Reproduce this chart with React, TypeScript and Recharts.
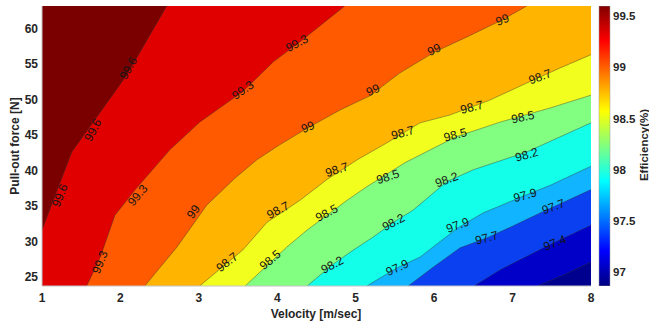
import {
  Area,
  Bar,
  BarChart,
  CartesianGrid,
  ComposedChart,
  Line,
  Scatter,
  XAxis,
  YAxis,
} from 'recharts'

const X_MIN = 1
const X_MAX = 8
const Y_MIN = 23.73
const Y_MAX = 63.15
const C_MIN = 96.866
const C_MAX = 99.597

const xTicks = [1, 2, 3, 4, 5, 6, 7, 8]
const yTicks = [25, 30, 35, 40, 45, 50, 55, 60]
const cTicks = [97, 97.5, 98, 98.5, 99, 99.5]

// band colours, lowest band first (below 97.1) up to the band above 99.6
const bandColors = [
  '#00008f',
  '#0000c8',
  '#0a40f0',
  '#10b4ff',
  '#14ffea',
  '#82ff80',
  '#f2ff1e',
  '#ffb400',
  '#ff5a00',
  '#e00000',
  '#7a0000',
]

// contour lines [velocity, force], lowest level first
const c971 = [[7.32, 23.73], [7.67, 25.4], [8, 27.1]]
const c974 = [[6.51, 23.73], [6.84, 26.0], [7.52, 29.8], [8, 32.3]]
const c977 = [[5.67, 23.73], [5.99, 26.4], [6.33, 29.1], [6.67, 30.5], [6.97, 32.0], [7.35, 34.0], [8, 37.3]]
const c979 = [[5.14, 23.73], [5.53, 26.3], [5.82, 27.8], [6.3, 31.9], [6.62, 34.0], [7.16, 36.5], [7.48, 37.9], [8, 40.6]]
const c982 = [[4.38, 23.73], [4.7, 26.7], [4.97, 28.8], [5.22, 30.6], [5.48, 32.7], [5.73, 34.4], [6.16, 38.4], [6.5, 40.1], [7.18, 42.6], [7.52, 44.3], [8, 46.7]]
const c985 = [[3.59, 23.73], [4.12, 29.2], [4.38, 31.6], [4.89, 35.8], [5.14, 37.7], [5.63, 41.1], [6.27, 44.7], [6.84, 46.8], [7.48, 48.8], [8, 50.6]]
const c987 = [[3.01, 23.73], [3.56, 28.8], [3.87, 32.7], [4.29, 35.8], [4.63, 38.7], [5.02, 41.5], [5.4, 43.9], [5.82, 46.7], [6.2, 47.8], [6.71, 49.9], [7.18, 52.3], [7.6, 54.4], [8, 56.3]]
const c990 = [[2.31, 23.73], [2.72, 29.2], [3.1, 35.1], [3.46, 38.9], [3.74, 41.5], [4.03, 43.6], [4.39, 46.0], [4.8, 48.5], [5.18, 50.5], [5.56, 53.7], [6.01, 56.7], [6.42, 58.8], [6.87, 61.2], [7.18, 63.15]]
const c993 = [[1.57, 23.73], [1.74, 27.7], [1.93, 33.7], [2.19, 37.3], [2.63, 42.9], [3.01, 46.8], [3.56, 51.1], [3.95, 55.3], [4.29, 58.1], [4.86, 63.15]]
const c996 = [[1, 31.6], [1.38, 42.6], [2.08, 53.4], [2.59, 63.15]]

const contours = [c971, c974, c977, c979, c982, c985, c987, c990, c993, c996]

// inline contour labels
const labels = [
  { x: 2.1, y: 54.4, t: '99.6', a: -60 },
  { x: 1.65, y: 45.7, t: '99.6', a: -62 },
  { x: 1.23, y: 36.5, t: '99.6', a: -68 },
  { x: 1.74, y: 27.1, t: '99.3', a: -68 },
  { x: 2.22, y: 36.5, t: '99.3', a: -50 },
  { x: 3.56, y: 51.3, t: '99.3', a: -35 },
  { x: 4.25, y: 57.9, t: '99.3', a: -28 },
  { x: 2.93, y: 34.2, t: '99', a: -55 },
  { x: 4.39, y: 46.1, t: '99', a: -22 },
  { x: 5.22, y: 51.3, t: '99', a: -25 },
  { x: 6.0, y: 57.0, t: '99', a: -25 },
  { x: 6.87, y: 61.2, t: '99', a: -20 },
  { x: 3.36, y: 27.1, t: '98.7', a: -38 },
  { x: 4.01, y: 34.4, t: '98.7', a: -28 },
  { x: 4.76, y: 40.1, t: '98.7', a: -18 },
  { x: 5.6, y: 45.3, t: '98.7', a: -15 },
  { x: 6.48, y: 48.9, t: '98.7', a: -14 },
  { x: 7.35, y: 53.2, t: '98.7', a: -20 },
  { x: 3.91, y: 27.4, t: '98.5', a: -40 },
  { x: 4.63, y: 34.0, t: '98.5', a: -28 },
  { x: 5.41, y: 39.1, t: '98.5', a: -18 },
  { x: 6.27, y: 45.0, t: '98.5', a: -15 },
  { x: 7.13, y: 47.5, t: '98.5', a: -12 },
  { x: 4.7, y: 26.7, t: '98.2', a: -28 },
  { x: 5.48, y: 32.7, t: '98.2', a: -28 },
  { x: 6.16, y: 38.7, t: '98.2', a: -20 },
  { x: 7.18, y: 42.2, t: '98.2', a: -16 },
  { x: 5.53, y: 26.3, t: '97.9', a: -25 },
  { x: 6.3, y: 32.3, t: '97.9', a: -20 },
  { x: 7.16, y: 36.5, t: '97.9', a: -15 },
  { x: 6.67, y: 30.5, t: '97.7', a: -15 },
  { x: 7.52, y: 34.9, t: '97.7', a: -20 },
  { x: 7.54, y: 29.8, t: '97.4', a: -22 },
]

const colorbarData = [{ name: 'eff', range: [C_MIN, C_MAX] }]

// jet colormap, bottom to top
const jetStops = [
  { o: 0, c: '#000080' },
  { o: 0.125, c: '#0000ff' },
  { o: 0.375, c: '#00ffff' },
  { o: 0.625, c: '#ffff00' },
  { o: 0.875, c: '#ff0000' },
  { o: 1, c: '#800000' },
]

// one table: "a{i}" is the filled region edge (padded to the plot border), "c{i}" the drawn line
const rows: Record<string, number>[] = []
contours.forEach((pts, i) => {
  const first = pts[0]
  const last = pts[pts.length - 1]
  if (first[0] > X_MIN) rows.push({ x: X_MIN, [`a${i}`]: Y_MIN })
  pts.forEach(([x, y]) => rows.push({ x, [`a${i}`]: y, [`c${i}`]: y }))
  if (last[0] < X_MAX) rows.push({ x: X_MAX, [`a${i}`]: Y_MAX })
})
rows.sort((p, q) => p.x - q.x)

const font = '"Liberation Sans", Arial, sans-serif'
const tickStyle = { fontSize: 12, fontWeight: 700, fill: '#262626' }
const frame = '#c4c4c4'

function ContourLabel(props: any) {
  const { cx, cy, payload } = props
  return (
    <text
      x={cx}
      y={cy}
      transform={`rotate(${payload.a} ${cx} ${cy})`}
      textAnchor='middle'
      dominantBaseline='central'
      fontSize={12}
      fill='#151515'
    >
      {payload.t}
    </text>
  )
}

export default function App() {
  return (
    <div
      style={{
        position: 'absolute',
        left: 0,
        top: 0,
        width: 649,
        height: 323,
        overflow: 'hidden',
        background: '#fff',
        fontFamily: font,
      }}
    >
      <div style={{ position: 'absolute', left: 0, top: 0 }}>
        <ComposedChart
          width={598}
          height={323}
          data={rows}
          margin={{ top: 6, right: 7, bottom: 0, left: 0 }}
        >
          <CartesianGrid fill={bandColors[0]} stroke='none' />
          <XAxis
            type='number'
            dataKey='x'
            domain={[X_MIN, X_MAX]}
            ticks={xTicks}
            allowDataOverflow
            height={37}
            tickSize={0}
            tickMargin={7}
            tick={tickStyle}
            stroke={frame}
            label={() => (
              <text
                x={316}
                y={318}
                textAnchor='middle'
                fontSize={12}
                fontWeight={700}
                fill='#262626'
              >
                Velocity [m/sec]
              </text>
            )}
          />
          <XAxis
            xAxisId='top'
            orientation='top'
            type='number'
            domain={[X_MIN, X_MAX]}
            height={0}
            tick={false}
            tickLine={false}
            stroke={frame}
          />
          <YAxis
            type='number'
            domain={[Y_MIN, Y_MAX]}
            ticks={yTicks}
            allowDataOverflow
            width={42}
            tickSize={0}
            tickMargin={4}
            tick={tickStyle}
            stroke={frame}
            label={() => (
              <text
                transform='translate(19 146) rotate(-90)'
                textAnchor='middle'
                fontSize={12}
                fontWeight={700}
                fill='#262626'
              >
                Pull-out force [N]
              </text>
            )}
          />
          <YAxis
            yAxisId='right'
            orientation='right'
            type='number'
            domain={[Y_MIN, Y_MAX]}
            width={0}
            tick={false}
            tickLine={false}
            stroke={frame}
          />
          {contours.map((_, i) => (
            <Area
              key={`a${i}`}
              type='linear'
              dataKey={`a${i}`}
              baseValue='dataMax'
              connectNulls
              stroke='none'
              fill={bandColors[i + 1]}
              fillOpacity={1}
              dot={false}
              activeDot={false}
              isAnimationActive={false}
            />
          ))}
          {contours.map((_, i) => (
            <Line
              key={`c${i}`}
              type='linear'
              dataKey={`c${i}`}
              connectNulls
              stroke='#333'
              strokeWidth={0.6}
              strokeOpacity={0.7}
              dot={false}
              activeDot={false}
              isAnimationActive={false}
            />
          ))}
          <Scatter
            data={labels}
            dataKey='y'
            shape={ContourLabel}
            isAnimationActive={false}
          />
        </ComposedChart>
      </div>
      <div style={{ position: 'absolute', left: 590, top: 0 }}>
        <BarChart
          width={59}
          height={323}
          data={colorbarData}
          margin={{ top: 6, right: 0, bottom: 0, left: 9 }}
          barCategoryGap={0}
        >
          <defs>
            <linearGradient id='jet' x1='0' y1='1' x2='0' y2='0'>
              {jetStops.map((s) => (
                <stop key={s.o} offset={s.o} stopColor={s.c} />
              ))}
            </linearGradient>
          </defs>
          <XAxis dataKey='name' height={37} tick={false} tickLine={false} axisLine={false} />
          <YAxis
            orientation='right'
            type='number'
            domain={[C_MIN, C_MAX]}
            ticks={cTicks}
            allowDataOverflow
            width={39}
            tickSize={0}
            tickMargin={3}
            axisLine={false}
            tick={{ ...tickStyle, fontSize: 11.5 }}
            label={() => (
              <text
                transform='translate(57.5 145) rotate(-90)'
                textAnchor='middle'
                fontSize={11.5}
                fontWeight={700}
                fill='#262626'
              >
                Efficiency(%)
              </text>
            )}
          />
          <Bar
            dataKey='range'
            fill='url(#jet)'
            stroke='#9a9a9a'
            strokeWidth={0.5}
            isAnimationActive={false}
          />
        </BarChart>
      </div>
    </div>
  )
}
